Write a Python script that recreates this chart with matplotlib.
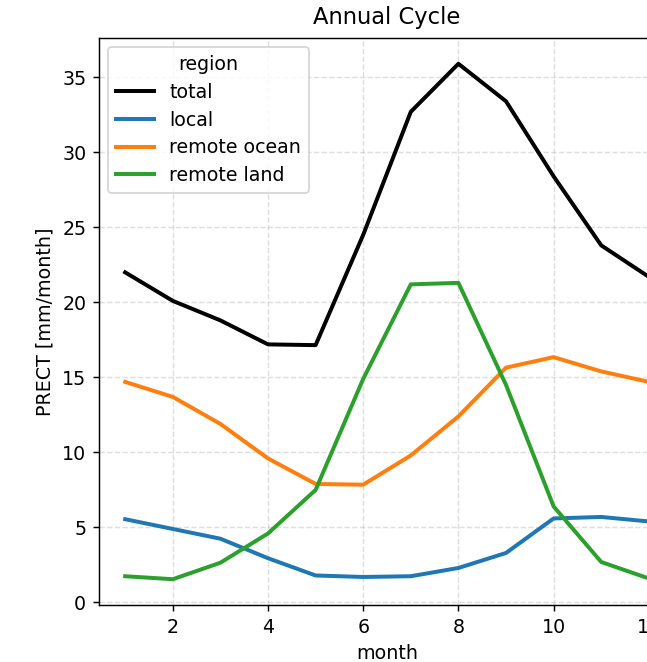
import numpy as np
import matplotlib.pyplot as plt

months = np.arange(1, 13)

total = [22.0, 20.1, 18.8, 17.2, 17.15, 24.5, 32.7, 35.9, 33.4, 28.4, 23.8, 21.7]
local = [5.55, 4.9, 4.25, 2.95, 1.8, 1.7, 1.75, 2.3, 3.3, 5.6, 5.7, 5.4]
remote_ocean = [14.7, 13.7, 11.9, 9.6, 7.9, 7.85, 9.8, 12.4, 15.65, 16.35, 15.4, 14.7]
remote_land = [1.75, 1.55, 2.65, 4.6, 7.5, 14.9, 21.2, 21.3, 14.5, 6.4, 2.7, 1.6]

series = {
    "total": (total, "black"),
    "local": (local, "tab:blue"),
    "remote ocean": (remote_ocean, "tab:orange"),
    "remote land": (remote_land, "tab:green"),
}

plt.rcParams["font.size"] = 10.5

dpi = 130
fig = plt.figure(figsize=(647 / dpi, 662 / dpi), dpi=dpi)
# axes extend past the right edge, as in the reference
ax = fig.add_axes([99 / 647, 57 / 662, 576 / 647, 567 / 662])

for name, (vals, col) in series.items():
    ax.plot(months, vals, color=col, lw=2.2, label=name)

ax.grid(True, linestyle="--", alpha=0.4)
ax.set_title("Annual Cycle", fontsize=12.5, pad=7.5)
ax.set_xlabel("month")
ax.set_ylabel("PRECT [mm/month]")
ax.legend(title="region", loc="upper left", title_fontsize=10.5,
          labelspacing=0.46)

fig.savefig("out.png", dpi=dpi)
